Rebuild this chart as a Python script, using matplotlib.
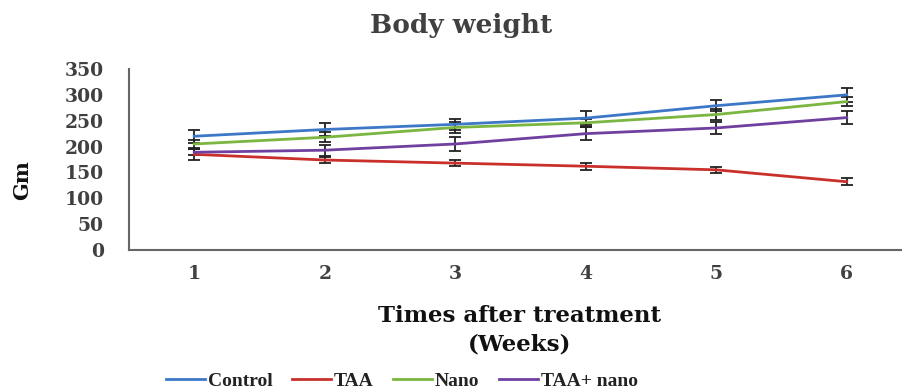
import matplotlib.pyplot as plt
import numpy as np

weeks = [1, 2, 3, 4, 5, 6]
series_names = ["Control", "TAA", "Nano", "TAA+ nano"]
control = [220, 233, 243, 255, 279, 300]
taa = [185, 174, 168, 162, 155, 132]
nano = [205, 218, 237, 246, 262, 287]
taa_nano = [189, 193, 205, 225, 236, 256]
control_err = [13, 13, 11, 13, 11, 13]
taa_err = [10, 6, 6, 7, 6, 7]
nano_err = [8, 10, 10, 8, 11, 8]
taa_nano_err = [6, 11, 13, 12, 11, 13]
colors = ["#3d78c8", "#c9302c", "#7ab640", "#7040a0"]

txt = "#404040"
plt.rcParams['font.family'] = ['DejaVu Serif']
plt.rcParams['font.weight'] = 'bold'

fig = plt.figure(figsize=(9.03, 3.92), dpi=100)
W, H = 903, 392
ax = fig.add_axes([129 / W, 1 - 250 / H, (912 - 129) / W, (250 - 69) / H])

data = [control, taa, nano, taa_nano]
errs = [control_err, taa_err, nano_err, taa_nano_err]
for name, vals, err, c in zip(series_names, data, errs, colors):
    ax.errorbar(weeks, vals, yerr=err, color=c, lw=2, ecolor="#222222",
                elinewidth=1.3, capsize=4, capthick=1.3, label=name)

ax.set_xlim(0.5, 6.5)
ax.set_ylim(0, 350)
ax.set_yticks(range(0, 351, 50))
ax.set_xticks(weeks)
ax.tick_params(length=0, labelsize=13.5, colors=txt)
ax.tick_params(axis='x', pad=11)
ax.tick_params(axis='y', pad=18)
for s in ["top", "right"]:
    ax.spines[s].set_visible(False)
for s in ["left", "bottom"]:
    ax.spines[s].set_color("#666666")
    ax.spines[s].set_linewidth(1.5)

fig.text(461 / W, 1 - 25 / H, "Body weight", ha="center", va="center",
         fontsize=19, color=txt, fontweight="bold")
fig.text(22 / W, 1 - 180 / H, "Gm", ha="center", va="center", rotation=90,
         fontsize=15, color="#111111", fontweight="bold")
fig.text(520 / W, 1 - 316 / H, "Times after treatment", ha="center", va="center",
         fontsize=16.5, color="#111111", fontweight="bold")
fig.text(520 / W, 1 - 344 / H, "(Weeks)", ha="center", va="center",
         fontsize=16.5, color="#111111", fontweight="bold")

handles = [plt.Line2D([], [], color=c, lw=2) for c in colors]
leg = fig.legend(handles, series_names, loc="center", ncol=4,
                 bbox_to_anchor=(402 / W, 1 - 381 / H), frameon=False,
                 prop={'family': 'Liberation Serif', 'weight': 'bold', 'size': 14},
                 handlelength=2.0, handletextpad=0.15, columnspacing=1.0)
for t in leg.get_texts():
    t.set_color("#222222")

fig.savefig("out.png", dpi=100)
